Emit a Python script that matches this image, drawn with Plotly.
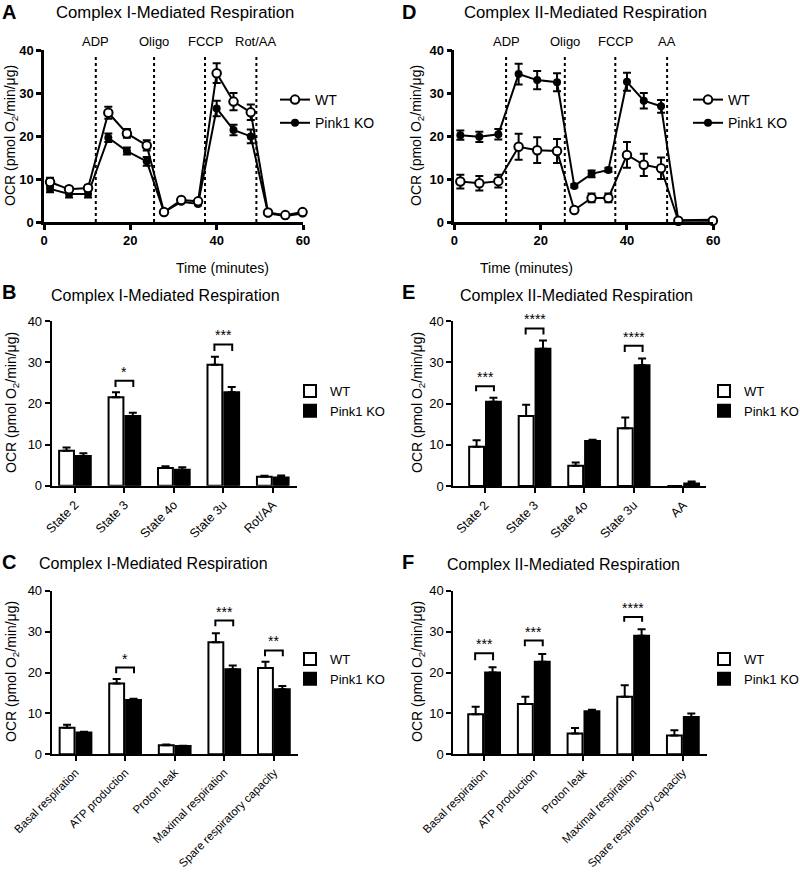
import plotly.graph_objects as go

W, H = 800, 872
def px(x): return x / W
def py(y): return 1 - y / H

FONT = "Liberation Sans, Arial, sans-serif"

# ---------------- Data ----------------
# Panel A (Complex I time course)
time_A = [1.4, 5.8, 10.2, 14.9, 19.2, 23.8, 27.8, 31.8, 35.7, 40.0, 43.9, 47.9, 51.9, 55.9, 59.9]
wt_A = [9.3, 7.6, 7.9, 25.4, 20.6, 17.8, 2.3, 5.1, 4.8, 34.6, 28.0, 25.5, 2.2, 1.6, 2.3]
wt_A_err = [1.0, 0.6, 0.6, 1.4, 1.0, 1.2, 0.3, 0.4, 0.4, 2.3, 2.0, 1.8, 0.2, 0.2, 0.2]
ko_A = [7.7, 6.5, 6.5, 19.6, 16.5, 14.1, 2.3, 4.7, 4.2, 26.4, 21.4, 19.9, 2.0, 1.4, 2.0]
ko_A_err = [0.8, 0.8, 0.8, 1.0, 0.8, 1.0, 0.2, 0.3, 0.3, 1.8, 1.2, 1.6, 0.2, 0.2, 0.2]
inj_A = [12.0, 25.5, 37.3, 49.2]
inj_labels_A = ["ADP", "Oligo", "FCCP", "Rot/AA"]

# Panel D (Complex II time course)
time_D = [1.4, 5.8, 10.2, 14.9, 19.2, 23.8, 27.8, 31.8, 35.7, 40.0, 43.9, 47.9, 51.9, 59.9]
wt_D = [9.4, 9.0, 9.5, 17.5, 16.7, 16.5, 2.8, 5.6, 5.6, 15.6, 13.3, 12.5, 0.3, 0.3]
wt_D_err = [1.6, 1.7, 1.5, 3.0, 3.0, 2.8, 0.5, 1.0, 1.0, 3.0, 2.6, 2.5, 0.2, 0.6]
ko_D = [20.2, 19.8, 20.4, 34.4, 33.0, 32.5, 8.4, 11.2, 12.1, 32.6, 28.2, 26.9, 0.4, 0.5]
ko_D_err = [1.1, 1.2, 1.2, 2.4, 2.1, 2.1, 0.4, 0.8, 0.5, 2.1, 1.8, 1.5, 0.3, 0.3]
inj_D = [12.0, 25.6, 37.3, 49.3]
inj_labels_D = ["ADP", "Oligo", "FCCP", "AA"]

# Panel B
cats_B = ["State 2", "State 3", "State 4o", "State 3u", "Rot/AA"]
wt_B = [8.5, 21.5, 4.3, 29.4, 2.2]
wt_B_err = [0.8, 1.2, 0.4, 1.9, 0.2]
ko_B = [7.2, 16.9, 3.9, 22.7, 2.0]
ko_B_err = [0.7, 0.8, 0.6, 1.3, 0.5]
sig_B = [(1, "*", 24.0, 25.5), (3, "***", 32.7, 34.3)]

# Panel E
cats_E = ["State 2", "State 3", "State 4o", "State 3u", "AA"]
wt_E = [9.5, 17.0, 4.9, 14.0, 0.0]
wt_E_err = [1.6, 2.7, 0.8, 2.6, 0.0]
ko_E = [20.4, 33.3, 10.9, 29.3, 0.6]
ko_E_err = [1.0, 2.0, 0.3, 1.6, 0.5]
sig_E = [(0, "***", 23.0, 24.2), (1, "****", 36.7, 38.2), (3, "****", 32.5, 34.0)]

# Panel C
cats_C = ["Basal respiration", "ATP production", "Proton leak", "Maximal respiration", "Spare respiratory capacity"]
wt_C = [6.5, 17.3, 2.2, 27.4, 21.1]
wt_C_err = [0.7, 1.1, 0.2, 2.2, 1.5]
ko_C = [5.3, 13.3, 2.0, 20.8, 15.9]
ko_C_err = [0.2, 0.3, 0.1, 0.9, 0.8]
sig_C = [(1, "*", 19.8, 21.2), (3, "***", 31.3, 32.7), (4, "**", 24.0, 25.4)]

# Panel F
cats_F = cats_C
wt_F = [9.8, 12.3, 5.1, 14.1, 4.6]
wt_F_err = [1.8, 1.8, 1.3, 2.8, 1.3]
ko_F = [20.0, 22.6, 10.5, 29.0, 9.1]
ko_F_err = [1.3, 1.9, 0.4, 1.6, 0.9]
sig_F = [(0, "***", 23.0, 24.7), (1, "***", 26.4, 27.8), (3, "****", 32.4, 33.6)]

YTITLE = "OCR (pmol O<sub>2</sub>/min/μg)"

fig = go.Figure()
annotations = []
shapes = []

def axis_style(bold=False, size=13, lw=2):
    return dict(showline=True, linecolor="black", linewidth=lw, ticks="outside",
                ticklen=5, tickwidth=lw, tickcolor="black", showgrid=False, zeroline=False,
                automargin=False,
                tickfont=dict(family=FONT, size=size, color="black",
                              weight="bold" if bold else "normal"))

def legend_style(x, y, size, gap):
    return dict(x=px(x), y=py(y), xref="container", yref="container",
                xanchor="left", yanchor="top", traceorder="grouped",
                bgcolor="rgba(0,0,0,0)", font=dict(family=FONT, size=size, color="black"),
                tracegroupgap=gap)

# ---------- time-course panels ----------
def time_panel(n, t, wt, wte, ko, koe, inj, inj_labels, xdom, ydom, leg_xy, xtitle_xy):
    xa = "x" if n == 1 else f"x{n}"
    ya = "y" if n == 1 else f"y{n}"
    lg = "legend" if n == 1 else f"legend{n}"
    fig.add_trace(go.Scatter(x=t, y=ko, mode="lines+markers", name="Pink1 KO",
                             line=dict(color="black", width=2),
                             marker=dict(symbol="circle", size=8, color="black"),
                             error_y=dict(type="data", array=koe, color="black", thickness=2, width=4),
                             xaxis=xa, yaxis=ya, legend=lg, legendgroup=f"ko{n}", legendrank=2,
                             cliponaxis=False))
    fig.add_trace(go.Scatter(x=t, y=wt, mode="lines+markers", name="WT",
                             line=dict(color="black", width=2),
                             marker=dict(symbol="circle", size=8.5, color="white",
                                         line=dict(color="black", width=2)),
                             error_y=dict(type="data", array=wte, color="black", thickness=2, width=4),
                             xaxis=xa, yaxis=ya, legend=lg, legendgroup=f"wt{n}", legendrank=1,
                             cliponaxis=False))
    key = "" if n == 1 else str(n)
    fig.update_layout(**{
        f"xaxis{key}": dict(domain=[px(xdom[0]), px(xdom[1])], range=[0, 60],
                            tickvals=[0, 20, 40, 60], anchor=ya, **axis_style(True, 13, 2.5)),
        f"yaxis{key}": dict(domain=[py(ydom[0]), py(ydom[1])], range=[0, 40],
                            tickvals=[0, 10, 20, 30, 40], anchor=xa, **axis_style(True, 13, 2.5)),
        lg: legend_style(leg_xy[0], leg_xy[1], 14, 2),
    })
    for xi, lab in zip(inj, inj_labels):
        shapes.append(dict(type="line", xref=xa, yref=f"{ya} domain", x0=xi, x1=xi, y0=0, y1=0.96,
                           line=dict(color="black", width=2, dash="dot")))
        annotations.append(dict(x=xi, y=1.0, xref=xa, yref=f"{ya} domain", text=lab, showarrow=False,
                                yanchor="bottom", yshift=-1, font=dict(family=FONT, size=13, color="black")))
    annotations.append(dict(x=px(xtitle_xy[0]), y=py(xtitle_xy[1]), xref="paper", yref="paper",
                            text="Time (minutes)", showarrow=False,
                            font=dict(family=FONT, size=14, color="black")))

time_panel(1, time_A, wt_A, wt_A_err, ko_A, ko_A_err, inj_A, inj_labels_A,
           (44, 303), (222, 50), (275, 84), (174, 258))
time_panel(4, time_D, wt_D, wt_D_err, ko_D, ko_D_err, inj_D, inj_labels_D,
           (454.3, 713.3), (222, 50), (688, 84), (575, 258))

# ---------- bar panels ----------
BW = 0.3
def bar_panel(n, cats, wt, wte, ko, koe, sig, xdom, ydom, xrange, leg_xy, tick_size):
    xa = f"x{n}"
    ya = f"y{n}"
    lg = f"legend{n}"
    xs = list(range(len(cats)))
    fig.add_trace(go.Bar(x=xs, y=wt, name="WT", width=BW, offset=-0.32,
                         marker=dict(color="white", line=dict(color="black", width=2)),
                         error_y=dict(type="data", array=wte, arrayminus=[0] * len(wte), symmetric=False,
                                      color="black", thickness=2, width=4),
                         xaxis=xa, yaxis=ya, legend=lg, legendgroup=f"wt{n}"))
    fig.add_trace(go.Bar(x=xs, y=ko, name="Pink1 KO", width=BW, offset=0.02,
                         marker=dict(color="black", line=dict(color="black", width=2)),
                         error_y=dict(type="data", array=koe, arrayminus=[0] * len(koe), symmetric=False,
                                      color="black", thickness=2, width=4),
                         xaxis=xa, yaxis=ya, legend=lg, legendgroup=f"ko{n}"))
    fig.update_layout(**{
        f"xaxis{n}": dict(domain=[px(xdom[0]), px(xdom[1])], range=xrange,
                          tickvals=xs, ticktext=cats, tickangle=-45, anchor=ya,
                          **axis_style(False, tick_size)),
        f"yaxis{n}": dict(domain=[py(ydom[0]), py(ydom[1])], range=[0, 40],
                          tickvals=[0, 10, 20, 30, 40], anchor=xa, **axis_style(False, 13)),
        lg: legend_style(leg_xy[0], leg_xy[1], 13, 0),
    })
    for ci, stars, ylo, yhi in sig:
        x0, x1 = ci - 0.18, ci + 0.18
        shapes.append(dict(type="path", xref=xa, yref=ya,
                           path=f"M {x0},{ylo} L {x0},{yhi} L {x1},{yhi} L {x1},{ylo}",
                           line=dict(color="black", width=2)))
        annotations.append(dict(x=ci, y=yhi, xref=xa, yref=ya, text=stars, showarrow=False,
                                yanchor="bottom", yshift=-1,
                                font=dict(family=FONT, size=14, color="black")))

bar_panel(2, cats_B, wt_B, wt_B_err, ko_B, ko_B_err, sig_B,
          (51.7, 297), (485.7, 321), [-0.47, 4.49], (290, 376), 12.5)
bar_panel(5, cats_E, wt_E, wt_E_err, ko_E, ko_E_err, sig_E,
          (453.3, 706), (486, 321), [-0.64, 4.46], (704, 376), 12.5)
bar_panel(3, cats_C, wt_C, wt_C_err, ko_C, ko_C_err, sig_C,
          (51.7, 297.7), (754.3, 590.7), [-0.48, 4.48], (290, 644), 11.5)
bar_panel(6, cats_F, wt_F, wt_F_err, ko_F, ko_F_err, sig_F,
          (453.3, 706.7), (754.3, 590.7), [-0.62, 4.48], (704, 644), 11.5)

# ---------- titles, letters, y titles ----------
def paper_text(x, y, text, size, bold=False, xanchor="left", angle=0):
    annotations.append(dict(x=px(x), y=py(y), xref="paper", yref="paper", text=text, showarrow=False,
                            xanchor=xanchor, yanchor="middle", textangle=angle,
                            font=dict(family=FONT, size=size, color="black",
                                      weight="bold" if bold else "normal")))

paper_text(0, 12, "A", 20, True)
paper_text(54, 13, "Complex I-Mediated Respiration", 16.7)
paper_text(400, 12, "D", 20, True)
paper_text(462, 13, "Complex II-Mediated Respiration", 16.7)
paper_text(0, 292, "B", 20, True)
paper_text(49, 295, "Complex I-Mediated Respiration", 16)
paper_text(400, 292, "E", 20, True)
paper_text(458, 295, "Complex II-Mediated Respiration", 16)
paper_text(0, 562, "C", 20, True)
paper_text(37, 563, "Complex I-Mediated Respiration", 16)
paper_text(400, 562, "F", 20, True)
paper_text(445, 564, "Complex II-Mediated Respiration", 16)

paper_text(11, 136, YTITLE, 14, xanchor="center", angle=-90)
paper_text(417, 136, YTITLE, 14, xanchor="center", angle=-90)
paper_text(12, 403, YTITLE, 14, xanchor="center", angle=-90)
paper_text(418, 403, YTITLE, 14, xanchor="center", angle=-90)
paper_text(12, 672, YTITLE, 14, xanchor="center", angle=-90)
paper_text(418, 672, YTITLE, 14, xanchor="center", angle=-90)

fig.update_layout(width=W, height=H, margin=dict(l=0, r=0, t=0, b=0, autoexpand=False),
                  paper_bgcolor="white", plot_bgcolor="white", barmode="overlay",
                  showlegend=True, annotations=annotations, shapes=shapes,
                  font=dict(family=FONT, color="black"))

fig.write_html("out.html", config={"displayModeBar": False},
               post_script="document.body.style.margin='0px';document.body.style.padding='0px';")
